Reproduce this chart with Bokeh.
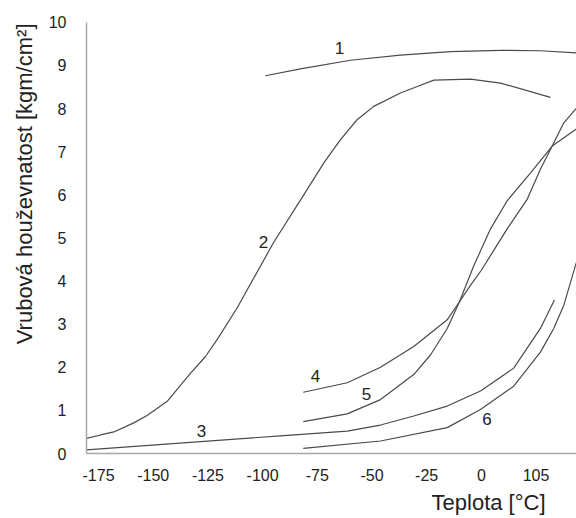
from bokeh.plotting import figure
from bokeh.models import FixedTicker, Label, Range1d, Title
from bokeh.embed import file_html
from bokeh.resources import INLINE

# ---- data ----
x_ticks = [-175, -150, -125, -100, -75, -50, -25, 0, 25]
x_tick_labels = ["-175", "-150", "-125", "-100", "-75", "-50", "-25", "0", "105"]
y_ticks = [0, 1, 2, 3, 4, 5, 6, 7, 8, 9, 10]

c1_x = [-98.7, -82.7, -59.8, -37.0, -14.1, 8.8, 27.0, 43.5]
c1_y = [8.76, 8.92, 9.12, 9.24, 9.32, 9.35, 9.34, 9.29]

c2_x = [-180.5, -174.1, -168.0, -158.9, -152.8, -143.6, -133.0, -126.1, -120.8,
        -111.6, -94.9, -81.9, -72.0, -64.4, -56.8, -49.2, -37.0, -29.3, -21.7,
        -5.0, 8.8, 31.6]
c2_y = [0.35, 0.43, 0.50, 0.71, 0.88, 1.21, 1.86, 2.25, 2.64,
        3.38, 4.90, 5.94, 6.74, 7.28, 7.74, 8.05, 8.36, 8.51, 8.66,
        8.68, 8.59, 8.26]

c3_x = [-180.5, -91.8, -61.3, -46.1, -30.9, -15.6, -0.4, 14.8, 27.0, 33.4]
c3_y = [0.085, 0.41, 0.52, 0.66, 0.87, 1.10, 1.45, 1.98, 2.90, 3.56]

c4_x = [-81.4, -61.3, -46.1, -30.9, -15.6, -10.0, -5.0, 0.0, 11.8, 21.0, 27.0,
        32.4, 37.7, 43.5]
c4_y = [1.42, 1.64, 2.00, 2.48, 3.10, 3.52, 3.90, 4.25, 5.21, 5.90, 6.59,
        7.13, 7.67, 8.01]

c5_x = [-81.4, -61.3, -46.1, -30.9, -23.2, -15.6, -10.0, -3.4, 4.2, 11.8, 22.5,
        32.4, 43.5]
c5_y = [0.74, 0.92, 1.25, 1.83, 2.29, 2.90, 3.52, 4.36, 5.21, 5.86, 6.51,
        7.13, 7.53]

c6_x = [-81.4, -46.1, -15.6, -0.4, 14.8, 27.0, 33.1, 37.7, 43.5]
c6_y = [0.12, 0.29, 0.60, 1.02, 1.56, 2.35, 2.90, 3.44, 4.44]

curve_names = ["1", "2", "3", "4", "5", "6"]
name_x = [-64.8, -99.6, -127.9, -75.8, -52.5, 2.6]
name_y = [9.40, 4.91, 0.53, 1.80, 1.38, 0.79]

x_title = "Teplota [°C]"
y_title = "Vrubová houževnatost [kgm/cm²]"

FONT = "Liberation Sans"
LINE = "#4a4a4a"
AXIS = "#a6a6a6"
TXT = "#222222"

p = figure(width=576, height=518, output_backend="svg", toolbar_location=None,
           x_range=Range1d(-180.5, 43.5), y_range=Range1d(0, 10.32),
           min_border_left=86, min_border_right=0, min_border_top=8,
           min_border_bottom=62)
p.outline_line_color = None
p.grid.visible = False
p.background_fill_color = "white"
p.border_fill_color = "white"

for xs, ys in [(c1_x, c1_y), (c2_x, c2_y), (c3_x, c3_y),
               (c4_x, c4_y), (c5_x, c5_y), (c6_x, c6_y)]:
    p.line(xs, ys, line_color=LINE, line_width=1.2)

for t, lx, ly in zip(curve_names, name_x, name_y):
    p.add_layout(Label(x=lx, y=ly, text=t, text_font=FONT,
                       text_font_size="17px", text_color=TXT,
                       text_align="center", text_baseline="middle"))

xa = p.xaxis[0]
xa.ticker = FixedTicker(ticks=x_ticks)
xa.major_label_overrides = {t: l for t, l in zip(x_ticks, x_tick_labels)}
xa.major_tick_line_color = None
xa.minor_tick_line_color = None
xa.axis_line_color = AXIS
xa.axis_line_width = 1.5
xa.major_label_text_font = FONT
xa.major_label_text_font_size = "16px"
xa.major_label_text_color = TXT
xa.major_label_standoff = 9

ya = p.yaxis[0]
ya.ticker = FixedTicker(ticks=y_ticks)
ya.bounds = (0, 10)
ya.major_tick_line_color = None
ya.minor_tick_line_color = None
ya.axis_line_color = AXIS
ya.axis_line_width = 1.5
ya.major_label_text_font = FONT
ya.major_label_text_font_size = "16px"
ya.major_label_text_color = TXT
ya.major_label_standoff = 14

p.add_layout(Title(text=x_title, align="right", offset=31, standoff=8,
                   text_font=FONT, text_font_size="22px",
                   text_font_style="normal", text_color=TXT), "below")
p.add_layout(Title(text=y_title, align="right", offset=15, standoff=18,
                   text_font=FONT, text_font_size="22px",
                   text_font_style="normal", text_color=TXT), "left")

open("out.html", "w").write(file_html(p, INLINE))
